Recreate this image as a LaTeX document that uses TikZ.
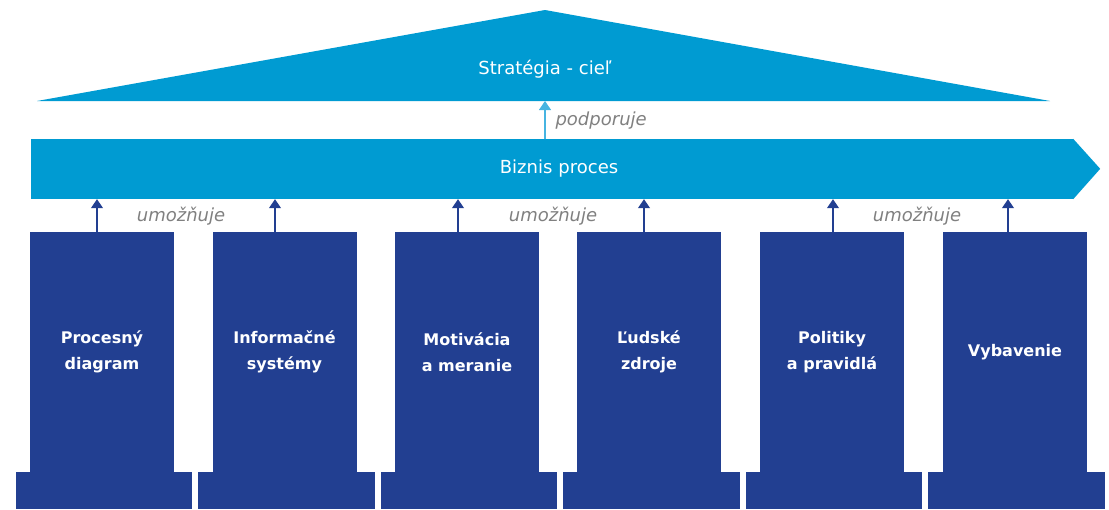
\documentclass[tikz,border=0pt]{standalone}
\usepackage{fontspec}
\setmainfont{DejaVu Sans}
\usetikzlibrary{arrows.meta}
\definecolor{roofblue}{RGB}{0,155,210}
\definecolor{pillarblue}{RGB}{34,63,145}
\definecolor{liftblue}{RGB}{70,180,225}
\definecolor{verbgray}{RGB}{128,128,128}

\begin{document}
\begin{tikzpicture}[line cap=round,line join=round,x=1pt,y=-1pt,
  pillar/.style={fill=pillarblue,minimum width=144pt,minimum height=240pt,inner sep=0pt,
    text=white,align=center,font=\bfseries\fontsize{16}{26}\selectfont},
  lift/.style={-{Triangle[length=9pt,width=12pt]},line width=1.1pt,pillarblue},
  verb/.style={text=verbgray,font=\itshape\fontsize{18}{22}\selectfont},
  bigtext/.style={text=white,font=\fontsize{18}{22}\selectfont}]
\useasboundingbox (0,0) rectangle (1109,509);
% roof
\fill[roofblue] (37,101) -- (545,10) -- (1050,101) -- cycle;
\node[bigtext] (strategia) at (545,69) {Stratégia - cieľ};
\coordinate (roofbase) at (545,101);
% band
\node[bigtext,fill=roofblue,minimum width=1042pt,minimum height=60pt,inner sep=0pt,
  text width=1042pt,align=center] (biznis) at (552,169) {\hspace*{14pt}Biznis proces};
\fill[roofblue] (biznis.north east) -- ++(27,30) -- (biznis.south east) -- cycle;
\draw[lift,liftblue] (biznis.north -| roofbase) -- (roofbase);
\node[verb,anchor=west] (podporuje) at (552,121) {podporuje};
% pillar feet
\fill[pillarblue] (16,472) rectangle (192,509);
\fill[pillarblue] (198,472) rectangle (375,509);
\fill[pillarblue] (381,472) rectangle (557,509);
\fill[pillarblue] (563,472) rectangle (740,509);
\fill[pillarblue] (746,472) rectangle (922,509);
\fill[pillarblue] (928,472) rectangle (1105,509);
% pillars
\node[pillar] (p1) at (102,352) {Procesný\\diagram};
\node[pillar] (p2) at (284.5,352) {Informačné\\systémy};
\node[pillar] (p3) at (467,352) {Motivácia\\a meranie};
\node[pillar] (p4) at (649,352) {Ľudské\\zdroje};
\node[pillar] (p5) at (832,352) {Politiky\\a pravidlá};
\node[pillar] (p6) at (1015,352) {Vybavenie};
% arrows up
\draw[lift] ([xshift=-5pt]p1.north) -- ([xshift=-5pt]p1.north |- biznis.south);
\draw[lift] ([xshift=-9.5pt]p2.north) -- ([xshift=-9.5pt]p2.north |- biznis.south);
\draw[lift] ([xshift=-9pt]p3.north) -- ([xshift=-9pt]p3.north |- biznis.south);
\draw[lift] ([xshift=-5pt]p4.north) -- ([xshift=-5pt]p4.north |- biznis.south);
\draw[lift] ([xshift=1pt]p5.north) -- ([xshift=1pt]p5.north |- biznis.south);
\draw[lift] ([xshift=-7pt]p6.north) -- ([xshift=-7pt]p6.north |- biznis.south);
\node[verb] (umoz1) at (181,216) {umožňuje};
\node[verb] (umoz2) at (553,216) {umožňuje};
\node[verb] (umoz3) at (917,216) {umožňuje};
\end{tikzpicture}
\end{document}
